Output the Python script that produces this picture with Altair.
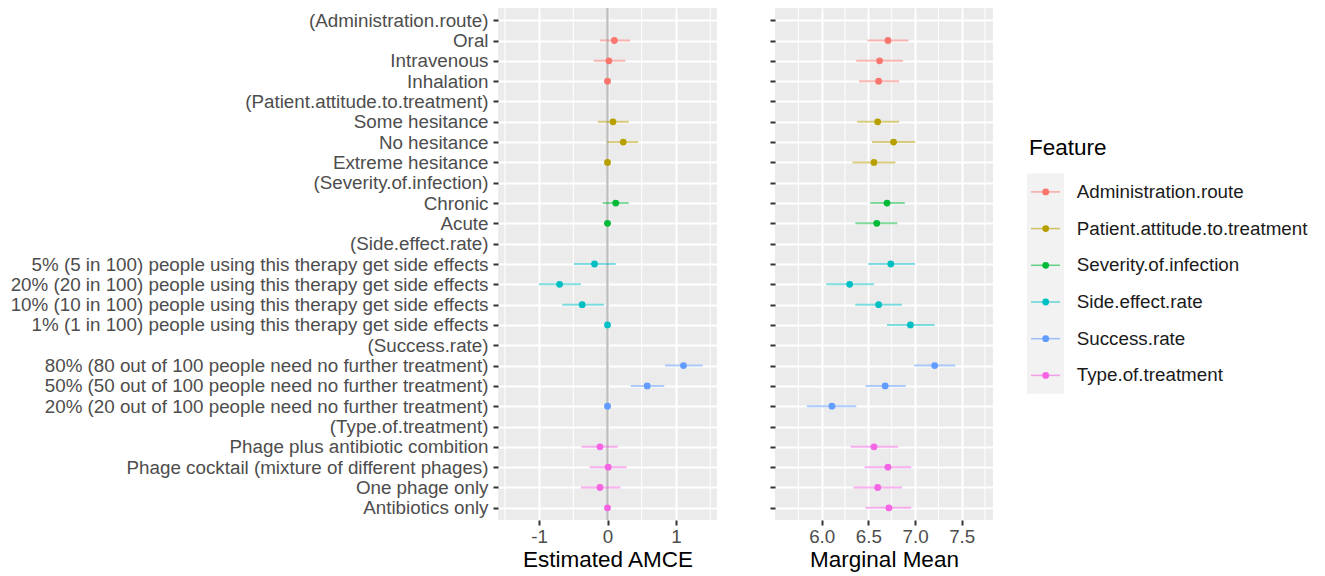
import altair as alt
import pandas as pd

levels = [
    "(Administration.route)", "Oral", "Intravenous", "Inhalation",
    "(Patient.attitude.to.treatment)", "Some hesitance", "No hesitance", "Extreme hesitance",
    "(Severity.of.infection)", "Chronic", "Acute",
    "(Side.effect.rate)",
    "5% (5 in 100) people using this therapy get side effects",
    "20% (20 in 100) people using this therapy get side effects",
    "10% (10 in 100) people using this therapy get side effects",
    "1% (1 in 100) people using this therapy get side effects",
    "(Success.rate)",
    "80% (80 out of 100 people need no further treatment)",
    "50% (50 out of 100 people need no further treatment)",
    "20% (20 out of 100 people need no further treatment)",
    "(Type.of.treatment)",
    "Phage plus antibiotic combition",
    "Phage cocktail (mixture of different phages)",
    "One phage only",
    "Antibiotics only",
]

features = ["Administration.route", "Patient.attitude.to.treatment", "Severity.of.infection",
            "Side.effect.rate", "Success.rate", "Type.of.treatment"]
colors = ["#F8766D", "#B79F00", "#00BA38", "#00BFC4", "#619CFF", "#F564E3"]

row_level = [
    "Oral", "Intravenous", "Inhalation",
    "Some hesitance", "No hesitance", "Extreme hesitance",
    "Chronic", "Acute",
    "5% (5 in 100) people using this therapy get side effects",
    "20% (20 in 100) people using this therapy get side effects",
    "10% (10 in 100) people using this therapy get side effects",
    "1% (1 in 100) people using this therapy get side effects",
    "80% (80 out of 100 people need no further treatment)",
    "50% (50 out of 100 people need no further treatment)",
    "20% (20 out of 100 people need no further treatment)",
    "Phage plus antibiotic combition",
    "Phage cocktail (mixture of different phages)",
    "One phage only",
    "Antibiotics only",
]
row_feature = (["Administration.route"] * 3 + ["Patient.attitude.to.treatment"] * 3 +
               ["Severity.of.infection"] * 2 + ["Side.effect.rate"] * 4 +
               ["Success.rate"] * 3 + ["Type.of.treatment"] * 4)

amce = [0.10, 0.02, 0.0, 0.08, 0.23, 0.0, 0.12, 0.0, -0.19, -0.70, -0.37, 0.0,
        1.11, 0.58, 0.0, -0.11, 0.01, -0.11, 0.0]
amce_lo = [-0.11, -0.20, None, -0.14, 0.00, None, -0.07, None, -0.49, -1.00, -0.66, None,
           0.84, 0.34, None, -0.38, -0.26, -0.39, None]
amce_hi = [0.33, 0.26, None, 0.31, 0.45, None, 0.31, None, 0.12, -0.39, -0.05, None,
           1.39, 0.83, None, 0.15, 0.28, 0.19, None]

mm = [6.71, 6.62, 6.61, 6.60, 6.77, 6.56, 6.70, 6.59, 6.74, 6.30, 6.61, 6.95,
      7.21, 6.68, 6.11, 6.56, 6.71, 6.60, 6.72]
mm_lo = [6.49, 6.37, 6.40, 6.38, 6.54, 6.33, 6.52, 6.36, 6.50, 6.05, 6.36, 6.70,
         6.99, 6.47, 5.84, 6.31, 6.46, 6.34, 6.47]
mm_hi = [6.93, 6.87, 6.83, 6.83, 7.00, 6.79, 6.89, 6.81, 7.00, 6.56, 6.86, 7.21,
         7.43, 6.90, 6.37, 6.82, 6.96, 6.86, 6.96]

amce_ticks = [-1, 0, 1]
amce_minor = [-1.5, -0.5, 0.5, 1.5]
mm_ticks = [6.0, 6.5, 7.0, 7.5]
mm_minor = [5.75, 6.25, 6.75, 7.25, 7.75]

df = pd.DataFrame({
    "level": row_level, "Feature": row_feature,
    "pos": [levels.index(l) for l in row_level],
    "amce": amce, "amce_lo": amce_lo, "amce_hi": amce_hi,
    "mm": mm, "mm_lo": mm_lo, "mm_hi": mm_hi,
})

FONT = "Liberation Sans"
LABEL_SIZE = 18.8
TITLE_SIZE = 22.5
W_L, W_R, H = 219, 218, 512
PANEL_BG = alt.ViewBackground(fill="#EBEBEB", strokeWidth=0)

color_scale = alt.Scale(domain=features, range=colors)
color_enc = alt.Color("Feature:N", scale=color_scale, legend=None)

label_expr = "[" + ",".join("'" + l + "'" for l in levels) + "][datum.value]"
y_scale = alt.Scale(domain=[-0.6, len(levels) - 1 + 0.6], reverse=True, nice=False, zero=False)


def y_axis(show_labels):
    return alt.Axis(
        title=None, labels=show_labels, values=list(range(len(levels))),
        labelExpr=label_expr, domain=False, grid=True, gridColor="white",
        gridWidth=2, ticks=True, tickColor="#333333", tickSize=5, tickWidth=2,
        labelFontSize=LABEL_SIZE, labelColor="#4D4D4D", labelPadding=5,
        labelFont=FONT, labelLimit=800, labelOverlap=False, labelFlush=False,
        labelBound=False,
    )


def x_axis(title, values, expr):
    return alt.Axis(
        title=title, values=values, domain=False, grid=True, gridColor="white",
        gridWidth=2, tickColor="#333333", tickSize=5, tickWidth=2,
        labelFontSize=LABEL_SIZE, labelColor="#4D4D4D", labelPadding=2,
        labelExpr=expr, labelFont=FONT, labelFlush=False, labelOverlap=False,
        titleFontSize=TITLE_SIZE, titleColor="black", titleFontWeight="normal",
        titleFont=FONT, titlePadding=3,
    )


def panel(val, lo, hi, domain, ticks, minor, title, expr, width, show_labels, zero_line):
    xs = alt.Scale(domain=domain, nice=False, zero=False)
    xa = x_axis(title, ticks, expr)
    ya = y_axis(show_labels)

    minor_df = pd.DataFrame({"v": minor})
    grid_minor = alt.Chart(minor_df).mark_rule(color="white", strokeWidth=1).encode(
        x=alt.X("v:Q", scale=xs, axis=xa)
    )
    layers = [grid_minor]
    if zero_line:
        zl = alt.Chart(pd.DataFrame({"v": [0]})).mark_rule(
            color="#BEBEBE", strokeWidth=2.3
        ).encode(x=alt.X("v:Q", scale=xs, axis=xa))
        layers.append(zl)
    bars = alt.Chart(df).mark_rule(strokeWidth=2, opacity=0.5).encode(
        x=alt.X(f"{lo}:Q", scale=xs, axis=xa),
        x2=alt.X2(f"{hi}:Q"),
        y=alt.Y("pos:Q", scale=y_scale, axis=ya),
        color=color_enc,
    )
    pts = alt.Chart(df).mark_circle(size=46, opacity=1).encode(
        x=alt.X(f"{val}:Q", scale=xs, axis=xa),
        y=alt.Y("pos:Q", scale=y_scale, axis=ya),
        color=color_enc,
    )
    layers += [bars, pts]
    return alt.layer(*layers).properties(width=width, height=H, view=PANEL_BG)


left = panel("amce", "amce_lo", "amce_hi", [-1.6, 1.6], amce_ticks, amce_minor,
             "Estimated AMCE", "'' + datum.value", W_L, True, True)
right = panel("mm", "mm_lo", "mm_hi", [5.5, 7.835], mm_ticks, mm_minor,
              "Marginal Mean", "format(datum.value, '.1f')", W_R, False, False)

# Custom legend (ggplot style with grey key backgrounds)
leg_df = pd.DataFrame({"Feature": features, "i": list(range(len(features)))})
leg_scale = alt.Scale(domain=[-5.01, 8.94], reverse=True, nice=False, zero=False)
leg_bg = alt.Chart(leg_df).transform_calculate(
    top="datum.i - 0.5", bot="datum.i + 0.5"
).mark_rect(color="#F2F2F2").encode(
    x=alt.value(0), x2=alt.value(37),
    y=alt.Y("top:Q", scale=leg_scale, axis=None), y2="bot:Q",
)
leg_rule = alt.Chart(leg_df).mark_rule(strokeWidth=1.5, opacity=0.6).encode(
    x=alt.value(4), x2=alt.value(33),
    y=alt.Y("i:Q", scale=leg_scale, axis=None), color=color_enc,
)
leg_pt = alt.Chart(leg_df).mark_circle(size=46, opacity=1).encode(
    x=alt.value(18.7), y=alt.Y("i:Q", scale=leg_scale, axis=None), color=color_enc
)
leg_txt = alt.Chart(leg_df).mark_text(
    align="left", baseline="middle", fontSize=LABEL_SIZE, font=FONT, color="#1A1A1A"
).encode(x=alt.value(49.7), y=alt.Y("i:Q", scale=leg_scale, axis=None), text="Feature:N")
leg_title = alt.Chart(pd.DataFrame({"t": ["Feature"]})).mark_text(
    align="left", baseline="middle", fontSize=TITLE_SIZE, font=FONT, color="black"
).encode(x=alt.value(2), y=alt.value(140), text="t:N")
legend = alt.layer(leg_bg, leg_rule, leg_pt, leg_txt, leg_title).properties(
    width=285, height=H, view=alt.ViewBackground(fill="white", strokeWidth=0)
)

panels = alt.hconcat(left, right, spacing=52)
chart = alt.hconcat(panels, legend, spacing=34).properties(
    padding={"left": 2, "top": -2, "right": 0, "bottom": 0}
).configure_view(stroke=None).configure(font=FONT)

chart.save("out.html", embed_options={"renderer": "svg", "actions": False})
